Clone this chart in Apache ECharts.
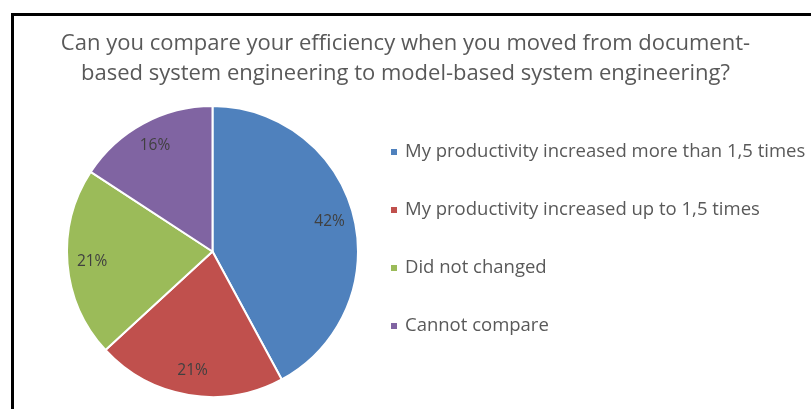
<!DOCTYPE html>
<html>
<head>
<meta charset="utf-8">
<script src="https://cdn.jsdelivr.net/npm/echarts@6/dist/echarts.min.js"></script>
<style>
  html, body { margin: 0; padding: 0; background: #fff; }
  #chart { position: absolute; left: 0; top: 0; width: 811px; height: 409px; }
  #frame { position: absolute; left: 11px; top: 13px; width: 820px; height: 420px;
           border-left: 3px solid #000; border-top: 3px solid #000; pointer-events: none; }
</style>
</head>
<body>
<div id="chart"></div>
<div id="frame"></div>
<script>
// answers and number of respondents per answer
var categories = [
  'My productivity increased more than 1,5 times',
  'My productivity increased up to 1,5 times',
  'Did not changed',
  'Cannot compare'
];
var counts = [8, 4, 4, 3];
var colors = ['#4F81BD', '#C0504D', '#9BBB59', '#8064A2'];

var titleText = 'Can you compare your efficiency when you moved from document-\nbased system engineering to model-based system engineering?';
var font = '"Open Sans", sans-serif';

var myChart = echarts.init(document.getElementById('chart'));

var pieData = categories.map(function (name, i) {
  return { name: name, value: counts[i], itemStyle: { color: colors[i] } };
});

var option = {
  animation: false,
  title: {
    text: titleText,
    left: 'center',
    top: 29,
    padding: 0,
    textStyle: { fontFamily: font, fontSize: 22, fontWeight: 'normal', color: '#595959', lineHeight: 30 }
  },
  legend: {
    orient: 'vertical',
    left: 389,
    top: 142,
    padding: 0,
    icon: 'rect',
    itemWidth: 8,
    itemHeight: 8,
    itemGap: 38,
    data: categories,
    textStyle: { fontFamily: font, fontSize: 18.5, color: '#595959', lineHeight: 20, padding: [0, 0, 0, 2] }
  },
  series: [
    {
      // the slices
      type: 'pie',
      center: [212.5, 251.5],
      radius: [0, 145.5],
      startAngle: 90,
      clockwise: true,
      percentPrecision: 0,
      label: { show: false },
      labelLine: { show: false },
      itemStyle: { borderColor: '#fff', borderWidth: 2 },
      data: pieData
    },
    {
      // transparent ring only to place the percent labels near the rim
      type: 'pie',
      silent: true,
      center: [212.5, 251.5],
      radius: [90, 145.5],
      startAngle: 90,
      clockwise: true,
      percentPrecision: 0,
      legendHoverLink: false,
      itemStyle: { color: 'rgba(0,0,0,0)' },
      label: {
        show: true,
        position: 'inside',
        formatter: '{d}%',
        fontFamily: font,
        fontSize: 15.5,
        color: '#404040'
      },
      labelLine: { show: false },
      data: categories.map(function (name, i) { return { name: name, value: counts[i] }; })
    }
  ]
};

myChart.setOption(option);
</script>
</body>
</html>
